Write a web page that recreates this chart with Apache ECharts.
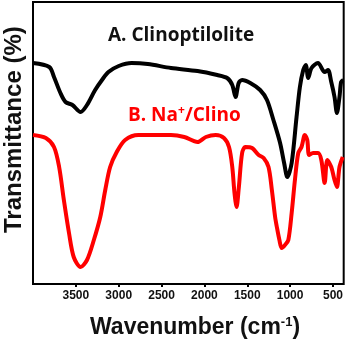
<!DOCTYPE html>
<html>
<head>
<meta charset="utf-8">
<script src="https://cdn.jsdelivr.net/npm/echarts@6/dist/echarts.min.js"></script>
<style>
  html, body { margin: 0; padding: 0; background: #fff; }
  #chart { width: 350px; height: 339px; }
</style>
</head>
<body>
<div id="chart"></div>
<script>
// wavenumber (cm-1) and transmittance (arbitrary units)
var wnA = [4000, 3810, 3755, 3680, 3620, 3540, 3445, 3370, 3275, 3195, 3120, 3000, 2850, 2660, 2390, 2080,
    1850, 1735, 1675, 1637, 1600, 1560, 1465, 1350, 1270, 1195, 1117, 1070, 1032, 982, 925, 886, 847, 817,
    789, 750, 675, 597, 558, 520, 482, 454, 424, 405, 380]
var tA = [221, 217, 207, 191, 182, 179, 172, 179, 194, 204, 212, 218, 221, 220, 216, 213,
    209, 206, 199, 187, 201, 204, 201, 194, 184, 164, 141, 121, 107, 121, 167, 197, 214, 219,
    206, 216, 221, 212, 214, 202, 187, 171, 187, 202, 204]

var wnB = [4000, 3850, 3755, 3695, 3640, 3580, 3525, 3445, 3370, 3290, 3215, 3157, 3100, 3023, 2925, 2770,
    2390, 2235, 2080, 1983, 1868, 1772, 1713, 1675, 1649, 1625, 1598, 1560, 1522, 1444, 1367, 1309,
    1252, 1213, 1175, 1155, 1125, 1098, 1060, 1021, 982, 944, 905, 867, 828, 800, 778, 732, 674, 636,
    597, 566, 520, 482, 454, 424, 386]
var tB = [149, 146, 137, 117, 84, 51, 27, 17, 24, 44, 67, 94, 117, 132, 144, 149,
    149, 147, 142, 147, 149, 146, 137, 117, 91, 77, 97, 131, 137, 136, 129, 126,
    117, 94, 67, 57, 44, 36, 39, 44, 71, 104, 131, 137, 149, 144, 129, 131, 131, 124,
    101, 124, 117, 104, 97, 117, 127]

var xTicks = [3500, 3000, 2500, 2000, 1500, 1000, 500]

function pairs(xs, ys) {
    var out = []
    for (var i = 0; i < xs.length; i++) out.push([xs[i], ys[i]])
    return out
}

var chart = echarts.init(document.getElementById('chart'))
chart.setOption({
    animation: false,
    grid: {
        left: 33, right: 2, top: 2, bottom: 55,
        show: true, borderColor: '#000', borderWidth: 2, backgroundColor: 'transparent'
    },
    xAxis: {
        type: 'value',
        inverse: true,
        min: 375, max: 4000,
        axisLine: { show: false },
        splitLine: { show: false },
        axisTick: { show: true, length: 3, inside: false, customValues: xTicks,
            lineStyle: { color: '#000', width: 2 } },
        axisLabel: { customValues: xTicks, margin: 6, color: '#111', fontWeight: 'bold',
            fontSize: 12, fontFamily: 'Liberation Sans',
            formatter: function (v) { return String(v) } }
    },
    yAxis: {
        type: 'value',
        min: 0, max: 282,
        axisLine: { show: false },
        axisTick: { show: false },
        axisLabel: { show: false },
        splitLine: { show: false }
    },
    graphic: [
        { type: 'text', rotation: Math.PI / 2, x: 2, y: 233,
            style: { text: 'Transmittance (%)', font: 'bold 24px "Liberation Sans"', fill: '#111' } },
        { type: 'text', x: 90, y: 316,
            style: { text: 'Wavenumber (cm{sup|-1})', font: 'bold 23px "Liberation Sans"', fill: '#111',
                rich: { sup: { fontSize: 13, fontWeight: 'bold', fontFamily: 'Liberation Sans', padding: [0, 0, 10, 0] } } } },
        { type: 'text', x: 108, y: 26,
            style: { text: 'A. Clinoptilolite', font: 'bold 19px "Open Sans"', fill: '#111' } },
        { type: 'text', x: 128, y: 105,
            style: { text: 'B. Na{sup|+}/Clino', font: 'bold 19px "Open Sans"', fill: '#ff0000',
                rich: { sup: { fontSize: 12, fontWeight: 'bold', fontFamily: 'Open Sans', padding: [0, 0, 10, 0] } } } }
    ],
    series: [
        { name: 'A. Clinoptilolite', type: 'line', data: pairs(wnA, tA), smooth: 0.3, showSymbol: false,
            lineStyle: { color: '#000', width: 4 } },
        { name: 'B. Na+/Clino', type: 'line', data: pairs(wnB, tB), smooth: 0.3, showSymbol: false,
            lineStyle: { color: '#ff0000', width: 4 } }
    ]
})
</script>
</body>
</html>
